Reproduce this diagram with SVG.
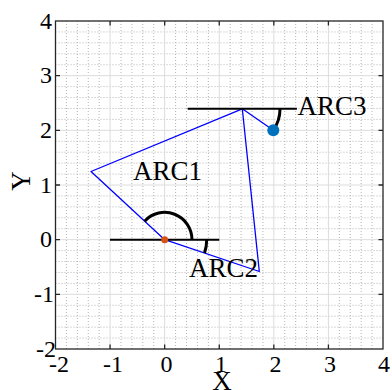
<svg xmlns="http://www.w3.org/2000/svg" width="392" height="390" viewBox="0 0 392 390">
<style>
text{font-family:"Liberation Serif","DejaVu Serif",serif;fill:#000}
.tk{font-size:24px}
.lb{font-size:27px}
.minor{stroke:#b4b4b4;stroke-width:1;stroke-dasharray:1 2;fill:none}
.major{stroke:#dcdcdc;stroke-width:1;fill:none}
.axis{stroke:#262626;stroke-width:1.3;fill:none}
.tri{stroke:#0000ff;stroke-width:1.3;fill:none;stroke-linejoin:round}
.ref{stroke:#000;stroke-width:2;fill:none}
.arc{stroke:#000;stroke-width:3;fill:none}
</style>
<rect width="392" height="390" fill="#fff"/>
<g id="grid">
<path class="minor" d="M66.42,21V349M77.33,21V349M88.25,21V349M99.17,21V349M121,21V349M131.92,21V349M142.83,21V349M153.75,21V349M175.58,21V349M186.5,21V349M197.42,21V349M208.33,21V349M230.17,21V349M241.08,21V349M252,21V349M262.92,21V349M284.75,21V349M295.67,21V349M306.58,21V349M317.5,21V349M339.33,21V349M350.25,21V349M361.17,21V349M372.08,21V349"/>
<path class="minor" d="M55.5,31.93H383M55.5,42.87H383M55.5,53.8H383M55.5,64.73H383M55.5,86.6H383M55.5,97.53H383M55.5,108.47H383M55.5,119.4H383M55.5,141.27H383M55.5,152.2H383M55.5,163.13H383M55.5,174.07H383M55.5,195.93H383M55.5,206.87H383M55.5,217.8H383M55.5,228.73H383M55.5,250.6H383M55.5,261.53H383M55.5,272.47H383M55.5,283.4H383M55.5,305.27H383M55.5,316.2H383M55.5,327.13H383M55.5,338.07H383"/>
<path class="major" d="M110.08,21V349M164.67,21V349M219.25,21V349M273.83,21V349M328.42,21V349M55.5,75.67H383M55.5,130.33H383M55.5,185H383M55.5,239.67H383M55.5,294.33H383"/>
</g>
<g id="connectors">
<path class="tri" d="M91,171.5L242.3,108.8L259.3,271.5L164.7,239.7Z M242.3,108.8L273.3,130.3"/>
<path class="ref" d="M110,239.7H219.3M187.7,108.8H296.9"/>
<path id="arc1" class="arc" d="M192,239.7A27.3,27.3 0 0 0 144.66,221.15"/>
<path id="arc2" class="arc" d="M206.7,239.7A42,42 0 0 1 204.51,253.08"/>
<path id="arc3" class="arc" d="M280,108.8A37.7,37.7 0 0 1 273.3,130.3"/>
</g>
<g id="origin"><circle cx="164.7" cy="239.7" r="3.5" fill="#d95319"/></g>
<g id="target"><circle cx="273.3" cy="130.3" r="6" fill="#0072bd"/></g>
<g id="labels">
<text class="lb" x="133" y="180">ARC1</text>
<text class="lb" x="189" y="276.5">ARC2</text>
<text class="lb" x="297.5" y="115">ARC3</text>
</g>
<g id="axes">
<rect class="axis" x="55.5" y="21" width="327.5" height="328"/>
<path class="axis" d="M110.08,349v-4.5M164.67,349v-4.5M219.25,349v-4.5M273.83,349v-4.5M328.42,349v-4.5M110.08,21v4.5M164.67,21v4.5M219.25,21v4.5M273.83,21v4.5M328.42,21v4.5M55.5,75.67h4.5M55.5,130.33h4.5M55.5,185h4.5M55.5,239.67h4.5M55.5,294.33h4.5M383,75.67h-4.5M383,130.33h-4.5M383,185h-4.5M383,239.67h-4.5M383,294.33h-4.5"/>
<g class="tk" text-anchor="end">
<text x="52" y="28.5">4</text>
<text x="52" y="83.2">3</text>
<text x="52" y="137.8">2</text>
<text x="52" y="192.5">1</text>
<text x="52" y="247.2">0</text>
<text x="54" y="301.8">-1</text>
<text x="56" y="356.5">-2</text>
</g>
<g class="tk" text-anchor="middle">
<text x="59" y="372">-2</text>
<text x="113" y="372">-1</text>
<text x="166.5" y="372">0</text>
<text x="221" y="372">1</text>
<text x="275.5" y="372">2</text>
<text x="330" y="372">3</text>
<text x="384" y="372">4</text>
</g>
<text class="lb" x="222" y="390" text-anchor="middle">X</text>
<text class="lb" transform="translate(30,181) rotate(-90)" text-anchor="middle">Y</text>
</g>
</svg>
